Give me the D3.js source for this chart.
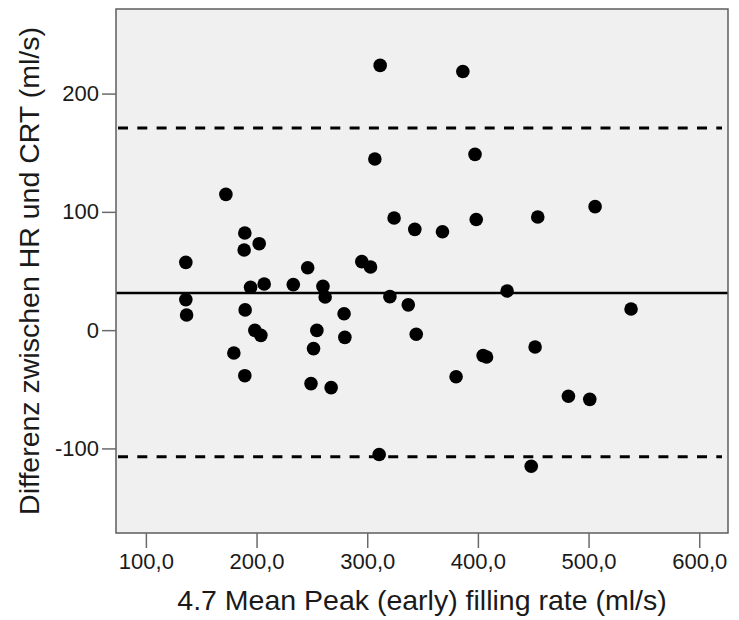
<!DOCTYPE html>
<meta charset="utf-8">
<style>
body { margin: 0; background: #fff; }
text { font-family: "Liberation Sans", Arial, sans-serif; fill: #1a1a1a; }
.axis line { stroke: #6a6a6a; stroke-width: 1.5px; }
.axis path { display: none; }
.axis text { font-size: 22px; }
</style>
<body>
<svg width="739" height="620"></svg>
<script src="https://cdn.jsdelivr.net/npm/d3@7"></script>
<script>

// mean of the two methods (x) and difference HR - CRT (y)
var meanRate = [136.1, 136.1, 136.8, 172.3, 179.5, 188.8, 189.4, 189.7, 189.4, 194.6,
                198.5, 202.4, 203.9, 206.9, 233.2, 246.2, 249.2, 251.5, 254.5, 260.0,
                262.0, 267.4, 279.1, 279.8, 295.1, 303.0, 306.9, 310.8, 311.7, 320.5,
                324.3, 337.1, 343.0, 344.3, 368.0, 380.3, 386.4, 397.4, 398.5, 404.7,
                407.8, 426.4, 448.2, 451.7, 454.1, 481.8, 501.1, 505.9, 538.4];
var diffRate = [57.3, 25.8, 12.8, 114.8, -19.3, 67.8, 82.1, 17.1, -38.5, 36.2,
                -0.2, 73.1, -4.4, 39.0, 38.5, 52.8, -45.2, -15.6, -0.2, 37.0,
                28.0, -48.6, 13.9, -6.1, 57.9, 53.4, 144.7, -105.1, 223.8, 28.3,
                94.8, 21.4, 85.2, -3.5, 83.2, -39.4, 218.7, 148.6, 93.5, -21.5,
                -22.7, 33.1, -115.1, -14.2, 95.7, -55.9, -58.5, 104.4, 17.9];

var meanDiff = 31.4;
var limits = [170.9, -107.0];

var xTicks = [100, 200, 300, 400, 500, 600];
var yTicks = [-100, 0, 100, 200];

var svg = d3.select("svg"),
    margin = {top: 9, right: 11, bottom: 87, left: 116},
    width = +svg.attr("width") - margin.left - margin.right,
    height = +svg.attr("height") - margin.top - margin.bottom;

var x = d3.scaleLinear().domain([73, 626]).range([0, width]);
var y = d3.scaleLinear().domain([-171.5, 271.5]).range([height, 0]);

var g = svg.append("g")
    .attr("transform", "translate(" + margin.left + "," + margin.top + ")");

g.append("rect")
    .attr("width", width)
    .attr("height", height)
    .attr("fill", "#f0f0f0");

g.append("line")
    .attr("x1", 0).attr("x2", width)
    .attr("y1", y(meanDiff)).attr("y2", y(meanDiff))
    .attr("stroke", "#000")
    .attr("stroke-width", 2.5);

g.selectAll(".limit")
    .data(limits)
  .enter().append("line")
    .attr("class", "limit")
    .attr("x1", 2).attr("x2", width - 6)
    .attr("y1", function(d) { return y(d); })
    .attr("y2", function(d) { return y(d); })
    .attr("stroke", "#000")
    .attr("stroke-width", 3)
    .attr("stroke-dasharray", "10,9.3");

g.selectAll(".dot")
    .data(meanRate)
  .enter().append("circle")
    .attr("class", "dot")
    .attr("cx", function(d) { return x(d); })
    .attr("cy", function(d, i) { return y(diffRate[i]); })
    .attr("r", 6.8)
    .attr("fill", "#000");

g.append("rect")
    .attr("width", width)
    .attr("height", height)
    .attr("fill", "none")
    .attr("stroke", "#5e5e5e")
    .attr("stroke-width", 1.5);

var fmt = function(d) { return d3.format(".1f")(d).replace(".", ","); };

g.append("g")
    .attr("class", "axis")
    .attr("transform", "translate(0," + height + ")")
    .call(d3.axisBottom(x).tickValues(xTicks).tickFormat(fmt).tickSize(15).tickPadding(5));

g.append("g")
    .attr("class", "axis")
    .call(d3.axisLeft(y).tickValues(yTicks).tickFormat(function(d) { return String(d); }).tickSize(14).tickPadding(3));

g.selectAll(".axis text").attr("fill", "#1a1a1a");

svg.append("text")
    .attr("x", margin.left + width / 2)
    .attr("y", 610)
    .attr("text-anchor", "middle")
    .style("font-size", "28.5px")
    .text("4.7 Mean Peak (early) filling rate (ml/s)");

svg.append("text")
    .attr("transform", "translate(39," + (margin.top + height / 2) + ") rotate(-90)")
    .attr("text-anchor", "middle")
    .style("font-size", "28.5px")
    .text("Differenz zwischen HR und CRT (ml/s)");

</script>
</body>
